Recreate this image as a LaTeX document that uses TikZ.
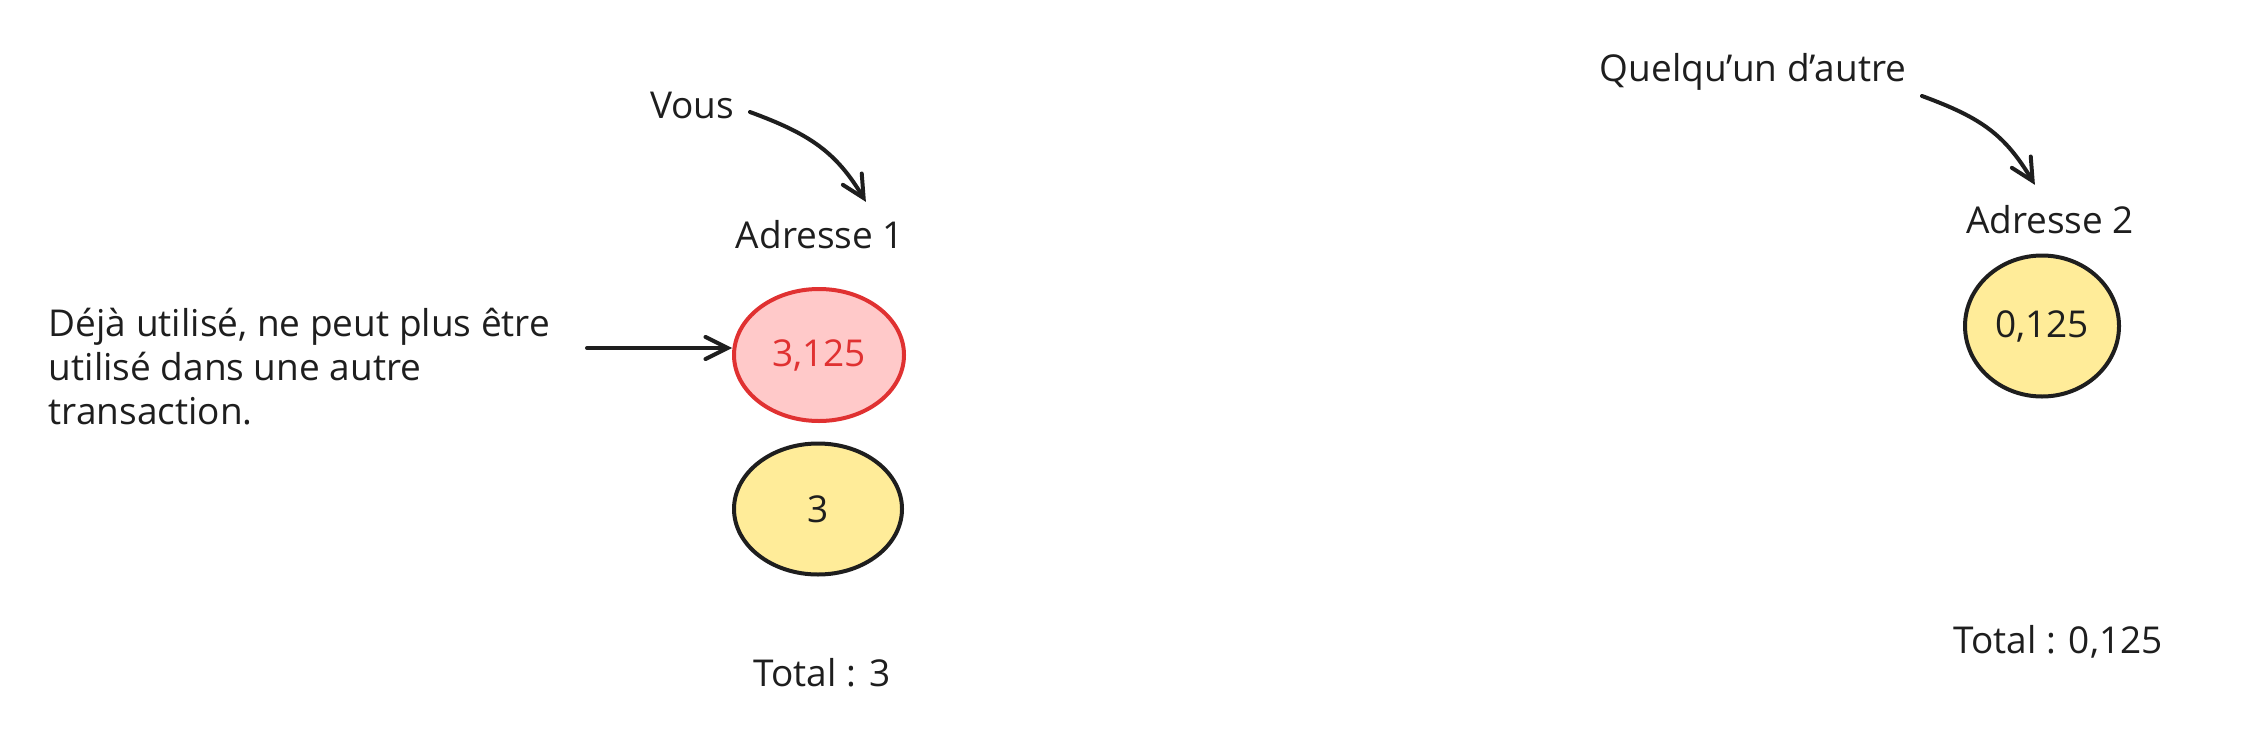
\documentclass[tikz,border=0pt]{standalone}
\usepackage{fontspec}
\setmainfont{Open Sans}
\usetikzlibrary{arrows.meta,shapes.geometric}
\definecolor{ink}{HTML}{1E1E1E}
\definecolor{usedred}{HTML}{E03131}
\definecolor{usedfill}{HTML}{FFC9C9}
\definecolor{coinfill}{HTML}{FFEC99}

\begin{document}
\begin{tikzpicture}[x=0.5pt,y=0.5pt,yscale=-1,
  txt/.style={text=ink,inner sep=0.75pt,font=\fontsize{18.5}{22}\selectfont},
  coin/.style={ellipse,draw=ink,fill=coinfill,line width=2pt,inner sep=0pt,text=ink,font=\fontsize{18.5}{22}\selectfont},
  usedcoin/.style={coin,draw=usedred,fill=usedfill,text=usedred},
  pointer/.style={draw=ink,line width=2pt,line cap=round,-{Straight Barb[length=11pt,width=11pt,line cap=round]}}]
\useasboundingbox (0,0) rectangle (2247,739);

% Adresse 1
\node[txt] (vous) at (692,105) {Vous};
\node[txt] (addr1) at (820,235) {Adresse 1};
\node[usedcoin,minimum width=85pt,minimum height=66pt] (used) at (819,355) {3,125};
\node[coin,minimum width=84pt,minimum height=65.5pt] (coin3) at (818,509) {3};
\node[txt] (total1) at (822,673) {Total : 3};

% Text Node
\node[txt,anchor=west,align=left] (note) at (47,367) {Déjà utilisé, ne peut plus être\\utilisé dans une autre\\transaction.};
\coordinate (noteend) at (587,348);

% Adresse 2
\node[txt] (other) at (1753,72) {Quelqu'un d'autre};
\node[txt] (addr2) at (2050,220) {Adresse 2};
\node[coin,minimum width=77pt,minimum height=70.5pt] (coin2) at (2042,326) {0,125};
\node[txt] (total2) at (2058,642) {Total : 0,125};

% Arrows
\draw[pointer] ([xshift=7pt,yshift=3.5pt]vous.east) .. controls +(60,22) and +(-30,-50) .. ([xshift=-20pt,yshift=-8.5pt]addr1.north east);
\draw[pointer] ([xshift=7pt,yshift=12pt]other.east) .. controls +(60,22) and +(-30,-50) .. ([xshift=-50.5pt,yshift=-9.5pt]addr2.north east);
\draw[pointer] (noteend) -- (noteend -| used.west);

\end{tikzpicture}
\end{document}
